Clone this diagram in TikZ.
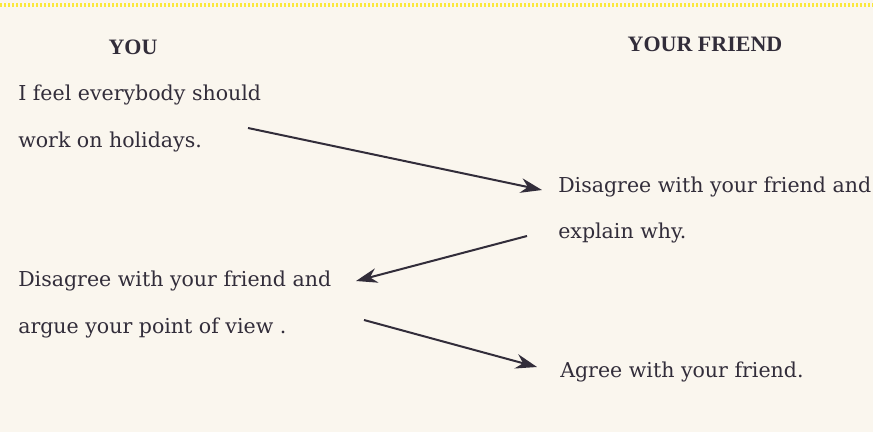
\documentclass[tikz,border=0pt]{standalone}
\usepackage{fontspec}
\setmainfont{DejaVu Serif}
\newfontfamily\headfont{Liberation Serif}
\usepackage{tikz}
\usetikzlibrary{positioning}
\usetikzlibrary{arrows.meta}
\definecolor{paper}{RGB}{250,246,238}
\definecolor{ink}{RGB}{50,45,58}
\definecolor{dots}{RGB}{250,232,60}
\tikzset{
	txt/.style={anchor=west, inner sep=0pt, text=ink, font=\fontsize{15.4}{20}\selectfont},
	head/.style={anchor=center, inner sep=0pt, text=ink, font=\headfont\fontsize{16.5}{20}\selectfont\bfseries},
	reply/.style={draw=ink, line width=1.5pt, -{Stealth[length=16pt, width=11pt]}}
}

\begin{document}
\begin{tikzpicture}[x=0.75pt, y=-0.75pt]
	\fill[paper] (0,0) rectangle (873,432);
	\useasboundingbox (0,0) rectangle (873,432);
	\draw[dots, line width=3pt, dash pattern=on 1.5pt off 1.5pt] (0,5) -- (873,5);

	\node[head](youHead) at (133,47){YOU};
	\node[head](friendHead) at (705,44){YOUR FRIEND};

	\node[txt](you1a) at (18,95){I feel everybody should};
	\node[txt](you1b) at (18,142){work on holidays.};

	\node[txt](friend1a) at (558,187){Disagree with your friend and};
	\node[txt](friend1b) at (558,233){explain why.};

	\node[txt](you2a) at (18,281){Disagree with your friend and};
	\node[txt](you2b) at (18,328){argue your point of view .};

	\node[txt](friend2) at (560,372){Agree with your friend.};

	\coordinate(a1start) at (248,128);
	\coordinate(a1end) at (542,190);
	\coordinate(a2start) at (527,236);
	\coordinate(a2end) at (356,281);
	\coordinate(a3start) at (364,320);
	\coordinate(a3end) at (537,367);
	\draw[reply] (a1start) -- (a1end);
	\draw[reply] (a2start) -- (a2end);
	\draw[reply] (a3start) -- (a3end);
\end{tikzpicture}
\end{document}
